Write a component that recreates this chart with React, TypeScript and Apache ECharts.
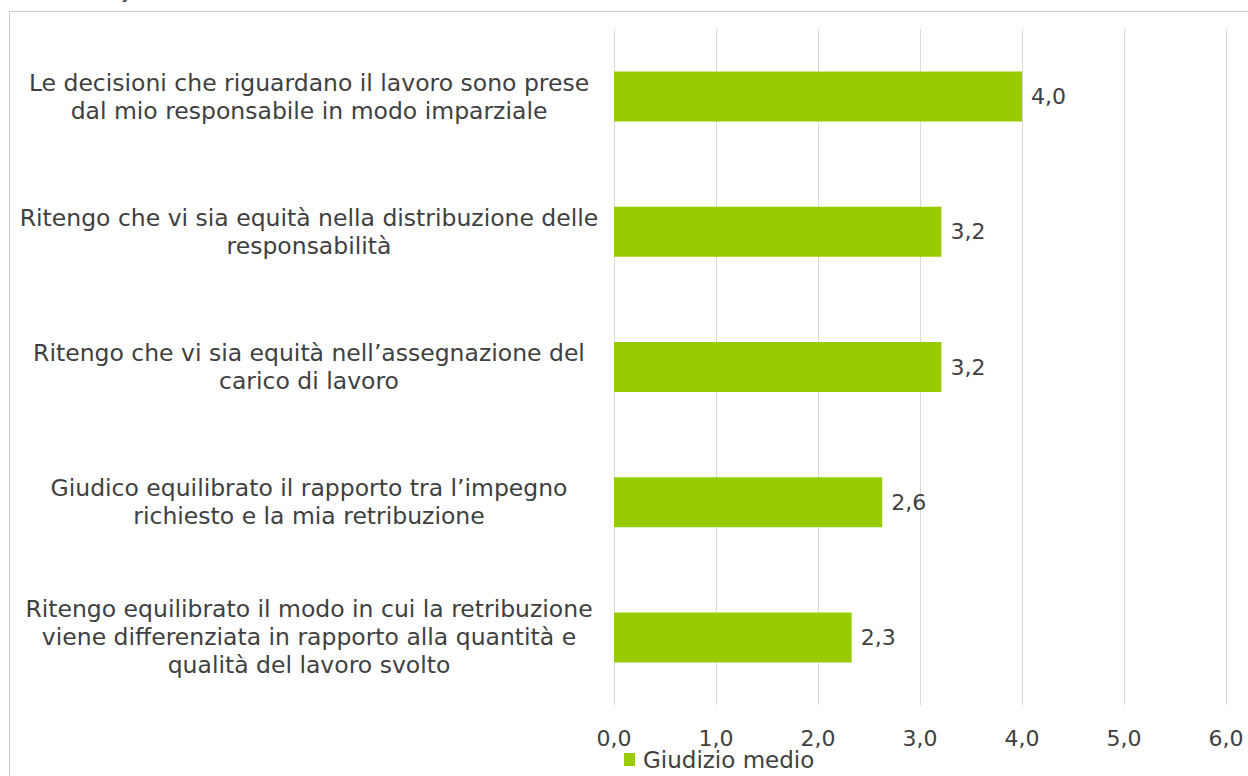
import React, { useEffect, useRef } from "react";
import * as echarts from "echarts";

const categories = [
  "Ritengo equilibrato il modo in cui la retribuzione\nviene differenziata in rapporto alla quantità e\nqualità del lavoro svolto",
  "Giudico equilibrato il rapporto tra l’impegno\nrichiesto e la mia retribuzione",
  "Ritengo che vi sia equità nell’assegnazione del\ncarico di lavoro",
  "Ritengo che vi sia equità nella distribuzione delle\nresponsabilità",
  "Le decisioni che riguardano il lavoro sono prese\ndal mio responsabile in modo imparziale",
];
const values = [2.33, 2.63, 3.21, 3.21, 4.0];
const seriesName = "Giudizio medio";
const xMin = 0;
const xMax = 6;
const xInterval = 1;

const FONT = "'DejaVu Sans', Verdana, sans-serif";
const TEXT = "#404040";
const fmt = (v: number) => v.toFixed(1).replace(".", ",");

export default function App() {
  const ref = useRef<HTMLDivElement>(null);
  useEffect(() => {
    if (!ref.current) return;
    const chart = echarts.init(ref.current, null, { renderer: "svg" });
    chart.setOption({
      animation: false,
      textStyle: { fontFamily: FONT },
      graphic: [
        {
          type: "rect",
          shape: { x: 9.5, y: 11.5, width: 1400, height: 900 },
          style: { fill: "none", stroke: "#c8c8c8", lineWidth: 1 },
          silent: true,
        },
        {
          type: "text",
          x: 121,
          y: 1,
          style: {
            text: "y",
            font: "20px 'DejaVu Sans'",
            fill: TEXT,
            verticalAlign: "bottom",
          },
          silent: true,
        },
      ],
      grid: { left: 614, right: 22, top: 29, bottom: 71 },
      legend: {
        left: 619,
        top: 743,
        icon: "rect",
        itemWidth: 11,
        itemHeight: 13,
        itemGap: 4,
        textStyle: { fontFamily: FONT, fontSize: 23, color: TEXT, padding: [0, 0, 0, 3] },
        data: [seriesName],
      },
      xAxis: {
        type: "value",
        min: xMin,
        max: xMax,
        interval: xInterval,
        axisLine: { show: false },
        axisTick: { show: false },
        splitLine: { show: true, lineStyle: { color: "#d9d9d9", width: 1 } },
        axisLabel: {
          fontFamily: FONT,
          fontSize: 22,
          color: TEXT,
          margin: 22,
          formatter: (v: number) => fmt(v),
        },
      },
      yAxis: {
        type: "category",
        data: categories,
        axisLine: { show: false },
        axisTick: { show: false },
        axisLabel: {
          fontFamily: FONT,
          fontSize: 23.5,
          lineHeight: 28,
          color: TEXT,
          align: "center",
          margin: 305,
        },
      },
      series: [
        {
          name: seriesName,
          type: "bar",
          data: values,
          barWidth: 50,
          itemStyle: { color: "#99cc00" },
          label: {
            show: true,
            position: "right",
            distance: 9,
            fontFamily: FONT,
            fontSize: 22,
            color: TEXT,
            formatter: (p: any) => fmt(p.value),
          },
        },
      ],
    });
    return () => chart.dispose();
  }, []);
  return (
    <div
      ref={ref}
      style={{ position: "fixed", left: 0, top: 0, width: 1248, height: 776, background: "#fff" }}
    />
  );
}
